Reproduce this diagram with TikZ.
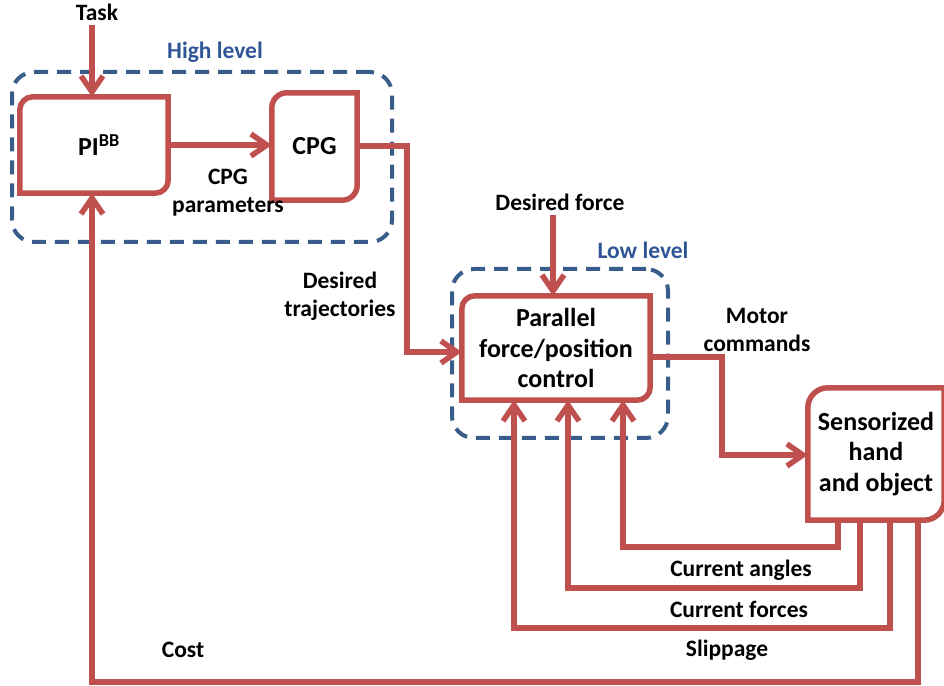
\documentclass[tikz,border=0pt]{standalone}
\usepackage{fontspec}
\setmainfont{Carlito}
\usetikzlibrary{arrows.meta}
\definecolor{redl}{RGB}{192,80,77}
\definecolor{bluel}{RGB}{56,93,138}
\definecolor{bluet}{RGB}{47,85,151}
\newcommand\myrbox[2]{\draw[boxline] (#1.south west) -- ([yshift=-#2]#1.north west) arc[start angle=180,end angle=90,radius=#2] -- (#1.north east) -- ([yshift=#2]#1.south east) arc[start angle=0,end angle=-90,radius=#2] -- cycle;}
\tikzset{
  boxline/.style={draw=redl,line width=5.5pt,line join=miter},
  wire/.style={draw=redl,line width=6pt,line join=miter},
  arr/.style={wire,-{Straight Barb[length=16pt,width=22pt,line width=5.5pt]}},
  level/.style={draw=bluel,line width=4pt,dash pattern=on 14pt off 9pt,rounded corners=22pt},
  lbl/.style={font=\bfseries\fontsize{23.5}{28}\selectfont,align=center,inner sep=0pt},
  blbl/.style={font=\bfseries\fontsize{23.5}{28}\selectfont,text=bluet,inner sep=0pt},
  boxtxt/.style={font=\bfseries\fontsize{26}{30.5}\selectfont,align=center,inner sep=0pt}
}
\begin{document}
\begin{tikzpicture}[x=1pt,y=1pt]
\useasboundingbox (0,0) rectangle (944,685);
% level frames
\node[level,minimum width=380pt,minimum height=170pt,inner sep=0pt] (hl) at (202,528) {};
\node[level,minimum width=216pt,minimum height=169pt,inner sep=0pt] (ll) at (560,331.5) {};
\node[blbl] (hllbl) at (215,633) {High level};
\node[blbl] (lllbl) at (643,435) {Low level};
% boxes
\node[boxtxt,minimum width=148pt,minimum height=96pt] (pi) at (94,540) {\hspace*{10pt}PI\textsuperscript{BB}};
\node[boxtxt,minimum width=85pt,minimum height=107pt] (cpg) at (314.5,538.5) {CPG};
\node[boxtxt,minimum width=188pt,minimum height=104pt] (pfc) at (556,337) {Parallel\\force/position\\control};
\node[boxtxt,minimum width=136pt,minimum height=132pt] (hand) at (876,231) {Sensorized\\hand\\and object};
\myrbox{pi}{13pt}
\myrbox{cpg}{15pt}
\myrbox{pfc}{13pt}
\myrbox{hand}{20pt}
% labels
\node[lbl] (task) at (97,673) {Task};
\node[lbl] (cpgpar) at (228,492.5) {CPG\\parameters};
\node[lbl] (destraj) at (340,389) {Desired\\trajectories};
\node[lbl] (desforce) at (560,483) {Desired force};
\node[lbl] (motor) at (757,355) {Motor\\commands};
\node[lbl] (angles) at (741,115) {Current angles};
\node[lbl] (forces) at (739,76) {Current forces};
\node[lbl] (slip) at (727,35) {Slippage};
\node[lbl] (cost) at (183,35) {Cost};
% connectors
\draw[arr] (92,660) -- (92,0 |- pi.north);
\draw[arr] (pi.east) -- (pi.east -| cpg.west);
\draw[arr] (cpg.east |- 0,539) -- (407,539) -- (407,333) -- (pfc.west |- 0,333);
\draw[arr] (553,470) -- (553,0 |- pfc.north);
\draw[arr] (pfc.east |- 0,328) -- (722,328) -- (722,230) -- (hand.west |- 0,230);
\draw[arr] (838,0 |- hand.south) -- (838,138) -- (623,138) -- (623,0 |- pfc.south);
\draw[arr] (860,0 |- hand.south) -- (860,97) -- (568,97) -- (568,0 |- pfc.south);
\draw[arr] (890,0 |- hand.south) -- (890,57) -- (514,57) -- (514,0 |- pfc.south);
\draw[arr] (918,0 |- hand.south) -- (918,3) -- (92,3) -- (92,0 |- pi.south);
\end{tikzpicture}
\end{document}
